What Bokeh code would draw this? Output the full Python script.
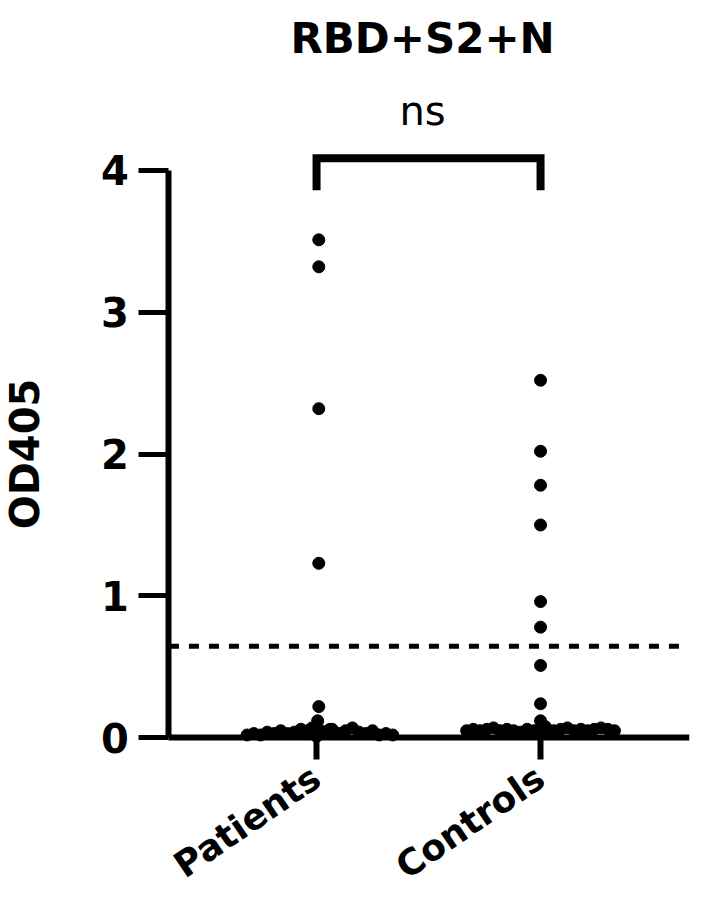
from bokeh.plotting import figure
from bokeh.models import FixedTicker, Range1d, Title
from bokeh.embed import file_html
from bokeh.resources import INLINE

# ---- data ----
groups = ["Patients", "Controls"]
group_pos = [1, 2]

patients_high = [3.51, 3.32, 2.32, 1.23, 0.22, 0.12]
patients_high_dx = [0.01, 0.01, 0.01, 0.01, 0.01, 0.005]
patients_low = [0.02, 0.03, 0.02, 0.04, 0.03, 0.05, 0.03, 0.04, 0.06, 0.05, 0.07, 0.05,
                0.04, 0.06, 0.03, 0.05, 0.07, 0.04, 0.03, 0.05, 0.02, 0.03, 0.02, 0.04, 0.06, 0.01]
patients_low_dx = [-0.31, -0.28, -0.25, -0.22, -0.19, -0.16, -0.13, -0.10, -0.07, -0.04, -0.02, 0.02,
                   0.04, 0.07, 0.10, 0.13, 0.16, 0.19, 0.22, 0.25, 0.28, 0.31, 0.34, -0.05, 0.06, 0.0]

controls_high = [2.52, 2.02, 1.78, 1.50, 0.96, 0.78, 0.51, 0.24, 0.12]
controls_high_dx = [0.0, 0.0, 0.0, 0.0, 0.0, 0.0, 0.0, 0.0, 0.0]
controls_low = [0.05, 0.06, 0.05, 0.06, 0.07, 0.05, 0.06, 0.05, 0.04, 0.06, 0.05, 0.07,
                0.06, 0.05, 0.06, 0.07, 0.05, 0.06, 0.05, 0.06, 0.07, 0.06, 0.05, 0.04, 0.08]
controls_low_dx = [-0.33, -0.30, -0.27, -0.24, -0.21, -0.18, -0.15, -0.12, -0.09, -0.06, -0.03, 0.0,
                   0.03, 0.06, 0.09, 0.12, 0.15, 0.18, 0.21, 0.24, 0.27, 0.30, 0.33, -0.01, 0.02]

cutoff = 0.645
y_ticks = [0, 1, 2, 3, 4]
y_bounds = (0, 4)
title_text = "RBD+S2+N"
sig_text = "ns"
y_label = "OD405"

# ---- figure ----
x_start, x_end = -0.411, 2.665   # full drawing area, y axis sits at y_axis_x
y_axis_x = 0.341
y_start, y_end = -1.182, 4.175
p = figure(width=700, height=905, output_backend="svg", toolbar_location=None,
           x_range=Range1d(x_start, x_end), y_range=Range1d(y_start, y_end),
           min_border_left=0, min_border_right=11, min_border_top=144, min_border_bottom=0)
p.title.text = title_text
p.title.align = "left"
p.title.offset = 290
p.title.text_font = "DejaVu Sans"
p.title.text_font_size = "42px"
p.title.text_font_style = "bold"
p.title.text_color = "black"
p.title.standoff = 23
p.add_layout(Title(text=sig_text, align="left", offset=399, text_font="DejaVu Sans",
                   text_color="black", text_font_size="40px", text_font_style="normal",
                   standoff=23), "above")

p.outline_line_color = None
p.grid.grid_line_color = None
p.background_fill_color = "white"
p.border_fill_color = "white"

# y axis
p.yaxis.fixed_location = y_axis_x
p.yaxis.ticker = FixedTicker(ticks=y_ticks)
p.yaxis.bounds = y_bounds
p.yaxis.axis_line_width = 6
p.yaxis.major_tick_line_width = 5
p.yaxis.major_tick_out = 30
p.yaxis.major_tick_in = 0
p.yaxis.minor_tick_line_color = None
p.yaxis.major_label_standoff = 10
p.yaxis.major_label_text_font = "DejaVu Sans"
p.yaxis.major_label_text_font_style = "bold"
p.yaxis.major_label_text_font_size = "40px"
p.yaxis.major_label_text_color = "black"
p.yaxis.axis_label = y_label
p.yaxis.axis_label_text_font = "DejaVu Sans"
p.yaxis.axis_label_text_font_style = "bold"
p.yaxis.axis_label_text_font_size = "40px"
p.yaxis.axis_label_text_color = "black"
p.yaxis.axis_label_standoff = 50

# x axis
p.xaxis.fixed_location = 0
p.xaxis.bounds = (y_axis_x, x_end)
p.xaxis.ticker = FixedTicker(ticks=group_pos)
p.xaxis.major_label_overrides = {pos: g for pos, g in zip(group_pos, groups)}
p.xaxis.axis_line_width = 6
p.xaxis.major_tick_line_width = 6
p.xaxis.major_tick_out = 22
p.xaxis.major_tick_in = 0
p.xaxis.minor_tick_line_color = None
p.xaxis.major_label_orientation = 0.6
p.xaxis.major_label_standoff = 14
p.xaxis.major_label_text_font = "DejaVu Sans"
p.xaxis.major_label_text_font_style = "bold"
p.xaxis.major_label_text_font_size = "36px"
p.xaxis.major_label_text_color = "black"

# cutoff line
p.segment(x0=[y_axis_x], x1=[2.63], y0=[cutoff], y1=[cutoff],
          line_color="black", line_width=5, line_dash="10 10")

# points
px = [group_pos[0] + d for d in patients_high_dx + patients_low_dx]
py = patients_high + patients_low
cx = [group_pos[1] + d for d in controls_high_dx + controls_low_dx]
cy = controls_high + controls_low
p.scatter(px, py, size=12, color="black", marker="circle")
p.scatter(cx, cy, size=12, color="black", marker="circle")

# significance bracket
p.line(x=[group_pos[0], group_pos[0], group_pos[1], group_pos[1]],
       y=[3.86, 4.085, 4.085, 3.86], line_color="black", line_width=8, line_join="miter")

open("out.html", "w").write(file_html(p, INLINE))
